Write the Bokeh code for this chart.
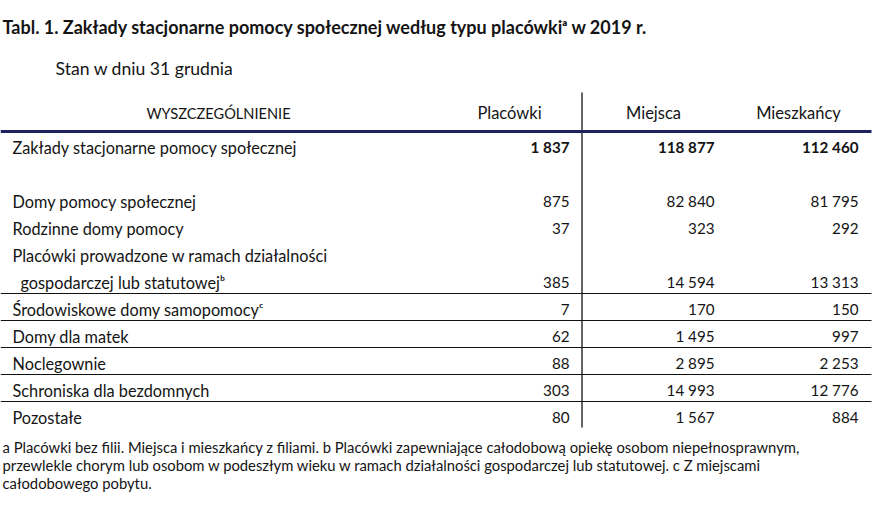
from bokeh.plotting import figure
from bokeh.models import Range1d, ColumnDataSource
from bokeh.embed import file_html
from bokeh.resources import INLINE
from bokeh.core.properties import value

# ---------------- data ----------------
title = "Tabl. 1. Zakłady stacjonarne pomocy społecznej według typu placówki\u1d43 w 2019 r."
subtitle = "Stan w dniu 31 grudnia"
headers = ["WYSZCZEGÓLNIENIE", "Placówki", "Miejsca", "Mieszkańcy"]
labels = [
    "Zakłady stacjonarne pomocy społecznej",
    "",
    "Domy pomocy społecznej",
    "Rodzinne domy pomocy",
    "Placówki prowadzone w ramach działalności",
    "gospodarczej lub statutowej\u1d47",
    "Środowiskowe domy samopomocy\u1d9c",
    "Domy dla matek",
    "Noclegownie",
    "Schroniska dla bezdomnych",
    "Pozostałe",
]
placowki = [1837, None, 875, 37, None, 385, 7, 62, 88, 303, 80]
miejsca = [118877, None, 82840, 323, None, 14594, 170, 1495, 2895, 14993, 1567]
mieszkancy = [112460, None, 81795, 292, None, 13313, 150, 997, 2253, 12776, 884]
footnotes = [
    "a Placówki bez filii. Miejsca i mieszkańcy z filiami. b Placówki zapewniające całodobową opiekę osobom niepełnosprawnym,",
    "przewlekle chorym lub osobom w podeszłym wieku w ramach działalności gospodarczej lub statutowej. c Z miejscami",
    "całodobowego pobytu.",
]

# ---------------- layout ----------------
FONT = value("Lato")
TXT = "#141414"
NAVY = "#1c2160"
W, H = 884, 507
row_y0, row_step = 153, 27
label_x = 12
indent = [0, 0, 0, 0, 0, 8, 0, 0, 0, 0, 0]
bold = [True] + [False] * 10
col_right = [569, 714, 858]
vline_x = 581.5
table_right = 871
row_shift = -6.5   # renderer baseline correction


def fmt(v):
    return "" if v is None else f"{v:,}".replace(",", " ")


p = figure(width=W, height=H, x_range=Range1d(0, W), y_range=Range1d(H, 0),
           output_backend="svg", toolbar_location=None, min_border=0)
p.axis.visible = False
p.grid.visible = False
p.outline_line_color = None
p.background_fill_color = "white"
p.border_fill_color = "white"

# title & subtitle
p.text(x=[2], y=[34 - 7.5], text=[title], text_font=FONT, text_font_size="18px",
       text_font_style="bold", text_color=TXT, text_baseline="alphabetic")
p.text(x=[55], y=[74 - 6.5], text=[subtitle], text_font=FONT, text_font_size="17.6px",
       text_color=TXT, text_baseline="alphabetic")

# header
p.text(x=[218], y=[119 + row_shift], text=headers[:1], text_font=FONT,
       text_font_size="14.6px", text_color=TXT, text_align="center", text_baseline="alphabetic")
p.text(x=[509, 653, 798], y=[119 + row_shift] * 3, text=headers[1:], text_font=FONT,
       text_font_size="16.5px", text_color=TXT, text_align="center", text_baseline="alphabetic")

# rules
p.segment(x0=[vline_x], y0=[92], x1=[vline_x], y1=[427], line_color="#111111", line_width=1.3)
p.segment(x0=[0], y0=[131], x1=[table_right], y1=[131], line_color=NAVY, line_width=3)
rule_rows = [5, 6, 7, 8, 9]
ry = [row_y0 + row_step * i + 5 for i in rule_rows]
p.segment(x0=[0] * len(ry), y0=ry, x1=[table_right] * len(ry), y1=ry,
          line_color="#111111", line_width=1.2)

# row labels
ys = [row_y0 + row_step * i + row_shift for i in range(len(labels))]
idx = [i for i in range(len(labels)) if labels[i]]
src = ColumnDataSource(dict(x=[label_x + indent[i] for i in idx], y=[ys[i] for i in idx],
                            t=[labels[i] for i in idx]))
p.text(x="x", y="y", text="t", source=src, text_font=FONT, text_font_size="16.3px",
       text_color=TXT, text_baseline="alphabetic")

# numbers
for col, series in zip(col_right, [placowki, miejsca, mieszkancy]):
    for style in (True, False):
        idx = [i for i in range(len(series)) if series[i] is not None and bold[i] == style]
        src = ColumnDataSource(dict(x=[col] * len(idx), y=[ys[i] for i in idx],
                                    t=[fmt(series[i]) for i in idx]))
        p.text(x="x", y="y", text="t", source=src, text_font=FONT, text_font_size="15.2px",
               text_font_style="bold" if style else "normal", text_color=TXT,
               text_align="right", text_baseline="alphabetic")

# footnotes
p.text(x=[2] * 3, y=[454 - 7.5, 472 - 7.5, 490 - 7.5], text=footnotes, text_font=FONT,
       text_font_size="14.8px", text_color=TXT, text_baseline="alphabetic")

open("out.html", "w").write(file_html(p, INLINE))
